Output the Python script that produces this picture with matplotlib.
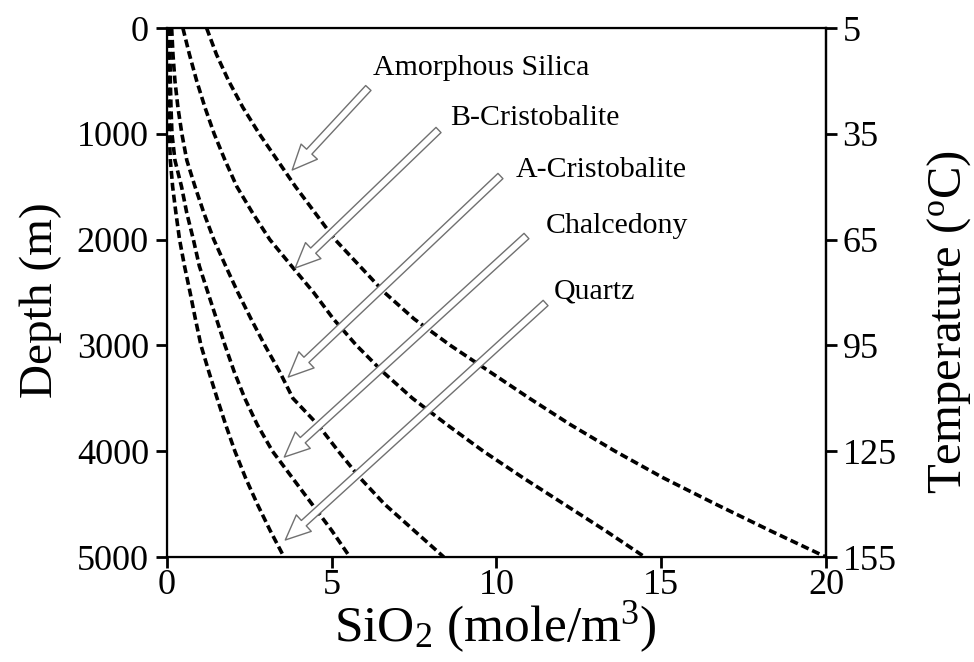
import numpy as np
import matplotlib
matplotlib.use("Agg")
import matplotlib.pyplot as plt

plt.rcParams["font.family"] = ["Liberation Serif", "DejaVu Serif"]
plt.rcParams["mathtext.fontset"] = "custom"
plt.rcParams["mathtext.rm"] = "Liberation Serif"
plt.rcParams["mathtext.it"] = "Liberation Serif"

# depth grid (m) and SiO2 concentration (mole/m3) for each silica phase
depth = [0, 250, 500, 750, 1000, 1250, 1500, 1750, 2000, 2250, 2500,
         2750, 3000, 3250, 3500, 3750, 4000, 4250, 4500, 4750, 5000]
amorphous = [1.2, 1.5, 1.87, 2.3, 2.8, 3.35, 3.9, 4.5, 5.1, 5.85, 6.6,
             7.5, 8.6, 9.8, 11.0, 12.25, 13.6, 15.05, 16.65, 18.3, 20.0]
b_cristo = [0.48, 0.68, 0.9, 1.15, 1.43, 1.76, 2.12, 2.6, 3.12, 3.78, 4.45,
            5.05, 5.75, 6.55, 7.45, 8.5, 9.6, 10.8, 12.05, 13.3, 14.5]
a_cristo = [0.14, 0.18, 0.24, 0.33, 0.45, 0.6, 0.85, 1.12, 1.42, 1.78, 2.15,
            2.55, 2.97, 3.42, 3.82, 4.58, 5.2, 5.85, 6.6, 7.5, 8.4]
chalcedony = [0.08, 0.09, 0.1, 0.12, 0.15, 0.24, 0.44, 0.6, 0.8, 0.98, 1.24,
              1.5, 1.76, 2.04, 2.36, 2.74, 3.2, 3.8, 4.4, 5.0, 5.55]
quartz = [0.04, 0.04, 0.05, 0.06, 0.07, 0.1, 0.17, 0.27, 0.38, 0.53, 0.7,
          0.86, 1.03, 1.27, 1.52, 1.78, 2.06, 2.38, 2.74, 3.13, 3.55]

labels = ["Amorphous Silica", "B-Cristobalite", "A-Cristobalite", "Chalcedony", "Quartz"]
depth_ticks = [0, 1000, 2000, 3000, 4000, 5000]
temp_ticks = [5, 35, 65, 95, 125, 155]
x_ticks = [0, 5, 10, 15, 20]

# label text anchor, arrow tail, arrow head (data coords)
text_pos = [(6.26, 378), (8.6, 851), (10.58, 1342), (11.49, 1871), (11.73, 2486)]
arrow_tail = [(6.11, 567), (8.24, 964), (10.12, 1399), (10.91, 1966), (11.49, 2599)]
arrow_head = [(3.80, 1342), (3.89, 2268), (3.68, 3299), (3.56, 4055), (3.59, 4839)]

fig = plt.figure(figsize=(9.74, 6.62), dpi=100)
ax = fig.add_axes([0.1715, 0.1586, 0.6765, 0.7991])

for s in [amorphous, b_cristo, a_cristo, chalcedony, quartz]:
    ax.plot(s, depth, color="black", lw=2.6, linestyle=(0, (2.2, 1.1)))

for lab, tp, tl, hd in zip(labels, text_pos, arrow_tail, arrow_head):
    ax.text(tp[0], tp[1], lab, fontsize=21.5, va="center", ha="left")
    ax.annotate("", xy=hd, xytext=tl,
                arrowprops=dict(arrowstyle="simple,head_length=0.9,head_width=0.8,tail_width=0.26",
                                fc="white", ec="#707070", lw=1.0, mutation_scale=20,
                                shrinkA=0, shrinkB=0))

ax.set_xlim(0, 20)
ax.set_ylim(5000, 0)
ax.set_xticks(x_ticks)
ax.set_yticks(depth_ticks)
ax.tick_params(axis="both", direction="out", length=8, width=2, labelsize=26, top=False)
ax.tick_params(axis="x", pad=0.5)
ax.tick_params(axis="y", pad=5)
for sp in ax.spines.values():
    sp.set_linewidth(1.6)
ax.set_xlabel("SiO$_2$ (mole/m$^3$)", fontsize=37)
ax.xaxis.set_label_coords(0.498, -0.080)
ax.set_ylabel("Depth (m)", fontsize=34)
ax.yaxis.set_label_coords(-0.160, 0.486)

ax2 = ax.twinx()
ax2.set_ylim(155, 5)
ax2.set_yticks(temp_ticks)
ax2.tick_params(axis="y", direction="out", length=8, width=2, labelsize=26, pad=4)
ax2.spines["right"].set_linewidth(1.6)
ax2.set_ylabel("Temperature ($^{\\mathrm{o}}$C)", fontsize=35)
ax2.yaxis.set_label_coords(1.150, 0.444)

fig.savefig("out.png", dpi=100)
